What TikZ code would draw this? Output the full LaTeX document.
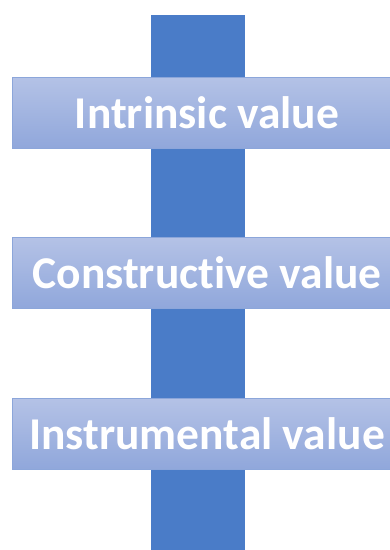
\documentclass[tikz,border=0pt]{standalone}
\usepackage{fontspec}
\setmainfont[Ligatures=NoCommon]{Carlito}
\definecolor{barblue}{HTML}{4A7CC8}
\definecolor{boxtop}{HTML}{B4C2E6}
\definecolor{boxbottom}{HTML}{90A7DB}
\definecolor{boxedge}{HTML}{8CA6DA}
\begin{document}
\begin{tikzpicture}[x = 1pt, y = -1pt,
	spine/.style = {fill = barblue, minimum width = 94pt, minimum height = 540pt, inner sep = 0pt},
	valuebox/.style = {draw = boxedge, top color = boxtop, bottom color = boxbottom, text = white,
		minimum width = 390pt, minimum height = 71pt, inner sep = 0pt,
		font = \fontsize{45.5}{50}\selectfont\bfseries}]
	\clip (0,0) rectangle (390,550);
	\node[spine] (bar) at (198,285) {};
	\node[valuebox] (intrinsic) at (207,112.5) {Intrinsic value};
	\node[valuebox] (constructive) at (207,273) {Constructive value};
	\node[valuebox] (instrumental) at (207,434) {Instrumental value};
\end{tikzpicture}
\end{document}
